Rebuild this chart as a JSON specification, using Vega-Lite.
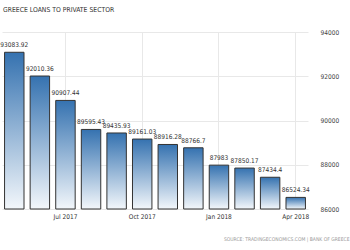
{
  "$schema": "https://vega.github.io/schema/vega-lite/v6.json",
  "autosize": "none",
  "width": 306,
  "height": 177,
  "padding": {"left": 2, "top": 32, "right": 42, "bottom": 41},
  "background": "white",
  "title": {
    "text": "GREECE LOANS TO PRIVATE SECTOR",
    "anchor": "start",
    "frame": "group",
    "offset": 15,
    "dx": 1,
    "fontSize": 6.8,
    "fontWeight": "normal",
    "font": "DejaVu Sans Condensed",
    "color": "#333333"
  },
  "data": {
    "values": [
      {"month": "May 2017", "value": 93083.92, "label": "93083.92"},
      {"month": "Jun 2017", "value": 92010.36, "label": "92010.36"},
      {"month": "Jul 2017", "value": 90907.44, "label": "90907.44"},
      {"month": "Aug 2017", "value": 89595.43, "label": "89595.43"},
      {"month": "Sep 2017", "value": 89435.93, "label": "89435.93"},
      {"month": "Oct 2017", "value": 89161.03, "label": "89161.03"},
      {"month": "Nov 2017", "value": 88916.28, "label": "88916.28"},
      {"month": "Dec 2017", "value": 88766.7, "label": "88766.7"},
      {"month": "Jan 2018", "value": 87983, "label": "87983"},
      {"month": "Feb 2018", "value": 87850.17, "label": "87850.17"},
      {"month": "Mar 2018", "value": 87434.4, "label": "87434.4"},
      {"month": "Apr 2018", "value": 86524.34, "label": "86524.34"}
    ]
  },
  "encoding": {
    "x": {
      "field": "month",
      "type": "ordinal",
      "sort": null,
      "scale": {"paddingInner": 0.24, "paddingOuter": 0.1},
      "axis": {
        "values": ["Jul 2017", "Oct 2017", "Jan 2018", "Apr 2018"],
        "labelAngle": 0,
        "labelFont": "DejaVu Sans Condensed",
        "labelFontSize": 6.5,
        "labelColor": "#333333",
        "labelPadding": 4,
        "ticks": false,
        "domain": false,
        "grid": true,
        "bandPosition": 0.5,
        "gridColor": "#e8e8e8",
        "title": "SOURCE: TRADINGECONOMICS.COM | BANK OF GREECE",
        "titleFont": "DejaVu Sans Condensed",
        "titleFontSize": 5,
        "titleFontWeight": "normal",
        "titleColor": "#9a9a9a",
        "titleAnchor": "end",
        "titleAlign": "right",
        "titleX": 347,
        "titleY": 27
      }
    },
    "y": {
      "field": "value",
      "type": "quantitative",
      "scale": {"domain": [86000, 94000], "zero": false, "nice": false},
      "axis": {
        "orient": "right",
        "values": [86000, 88000, 90000, 92000, 94000],
        "format": "d",
        "labelFont": "DejaVu Sans Condensed",
        "labelFontSize": 6.5,
        "labelColor": "#444444",
        "labelPadding": 12,
        "ticks": false,
        "domain": false,
        "gridColor": "#e8e8e8",
        "title": null
      }
    }
  },
  "layer": [
    {
      "mark": {
        "type": "bar",
        "stroke": "#333333",
        "strokeWidth": 1,
        "color": {
          "gradient": "linear",
          "x1": 0, "y1": 0, "x2": 0, "y2": 1,
          "stops": [
            {"offset": 0, "color": "#3572b0"},
            {"offset": 1, "color": "#f3f7fb"}
          ]
        }
      },
      "encoding": {
        "y2": {"datum": 86000}
      }
    },
    {
      "mark": {
        "type": "text",
        "baseline": "bottom",
        "dy": -4,
        "font": "DejaVu Sans Condensed",
        "fontSize": 6.5,
        "color": "#333333"
      },
      "encoding": {
        "text": {"field": "label"}
      }
    }
  ],
  "config": {
    "view": {"stroke": null}
  }
}
